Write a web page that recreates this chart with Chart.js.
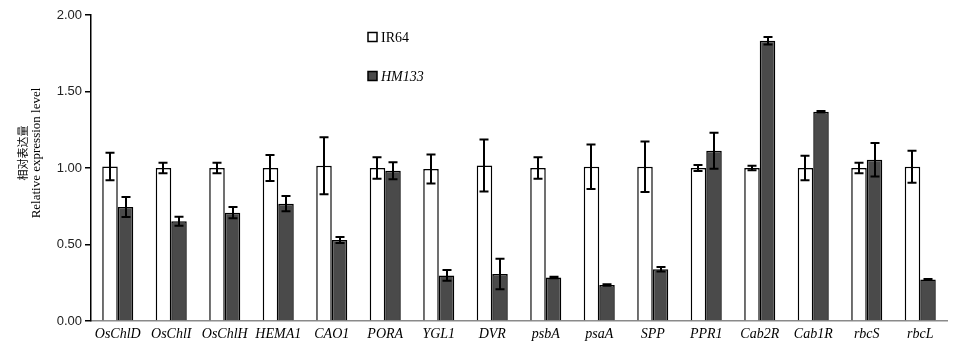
<!DOCTYPE html>
<html><head><meta charset="utf-8">
<script src="https://cdn.jsdelivr.net/npm/chart.js@4.4.1/dist/chart.umd.min.js"></script>
<style>html,body{margin:0;padding:0;background:#fff;}canvas{display:block;}</style>
</head><body>
<canvas id="c" width="955" height="356"></canvas>
<script>
const categories = ['OsChlD','OsChlI','OsChlH','HEMA1','CAO1','PORA','YGL1','DVR','psbA','psaA','SPP','PPR1','Cab2R','Cab1R','rbcS','rbcL'];
const seriesNames = ['IR64','HM133'];
const ir64 = [1.01,1.00,1.00,1.00,1.015,1.00,0.993,1.017,1.00,1.008,1.008,1.00,1.00,1.00,1.00,1.008];
const ir64Err = [0.09,0.035,0.035,0.085,0.186,0.07,0.095,0.17,0.07,0.145,0.165,0.02,0.015,0.08,0.035,0.105];
const hm133 = [0.745,0.652,0.708,0.767,0.529,0.982,0.298,0.307,0.285,0.235,0.338,1.113,1.832,1.368,1.054,0.272];
const hm133Err = [0.065,0.03,0.037,0.05,0.02,0.056,0.035,0.1,0.005,0.005,0.015,0.118,0.025,0.005,0.11,0.003];
const yTicks = [0,0.5,1.0,1.5,2.0];
const yTitle = ['相对表达量','Relative expression level'];

const errs = [ir64Err, hm133Err];

const errorBars = {
  id:'errorBars',
  afterDatasetsDraw(chart){
    const ctx = chart.ctx, ys = chart.scales.y;
    ctx.save();
    ctx.strokeStyle = '#000';
    ctx.lineWidth = 2;
    chart.data.datasets.forEach((ds,di)=>{
      const meta = chart.getDatasetMeta(di);
      meta.data.forEach((el,i)=>{
        const v = ds.data[i], e = errs[di][i];
        const x = Math.round(el.x);
        const t = ys.getPixelForValue(v+e), b = ys.getPixelForValue(v-e);
        ctx.beginPath();
        ctx.moveTo(x, t); ctx.lineTo(x, b);
        ctx.moveTo(x-4.5, t); ctx.lineTo(x+4.5, t);
        ctx.moveTo(x-4.5, b); ctx.lineTo(x+4.5, b);
        ctx.stroke();
      });
    });
    ctx.restore();
  }
};

const extras = {
  id:'extras',
  afterDraw(chart){
    const ctx = chart.ctx;
    ctx.save();
    // y axis title
    ctx.fillStyle = '#000';
    ctx.textAlign = 'center';
    ctx.textBaseline = 'middle';
    ctx.translate(23, 153);
    ctx.rotate(-Math.PI/2);
    ctx.font = '11px "Noto Sans CJK SC"';
    ctx.fillText(yTitle[0], 0, 0);
    ctx.font = '13px "Liberation Serif"';
    ctx.fillText(yTitle[1], 0, 14);
    ctx.restore();
    // legend
    ctx.save();
    const items = [
      {y:37, fill:'#ffffff', font:'14px "Liberation Serif"'},
      {y:76, fill:'#4a4a4a', font:'italic 14px "Liberation Serif"'}
    ];
    items.forEach((it,i)=>{
      ctx.fillStyle = it.fill;
      ctx.fillRect(368, it.y-4.5, 9, 9);
      ctx.strokeStyle = '#000';
      ctx.lineWidth = 1.5;
      ctx.strokeRect(368, it.y-4.5, 9, 9);
      ctx.fillStyle = '#000';
      ctx.font = it.font;
      ctx.textAlign = 'left';
      ctx.textBaseline = 'middle';
      ctx.fillText(chart.data.datasets[i].label, 381, it.y+1);
    });
    ctx.restore();
  }
};

new Chart(document.getElementById('c'), {
  type:'bar',
  data:{
    labels: categories,
    datasets:[
      {label:seriesNames[0], data:ir64, backgroundColor:'#ffffff', borderColor:'#000', borderWidth:1.5, borderSkipped:'bottom'},
      {label:seriesNames[1], data:hm133, backgroundColor:'#4a4a4a', borderColor:'#000', borderWidth:1.5, borderSkipped:'bottom'}
    ]
  },
  options:{
    responsive:false,
    animation:false,
    devicePixelRatio:1,
    layout:{padding:{top:15,right:8,left:0,bottom:0}},
    datasets:{bar:{categoryPercentage:0.58, barPercentage:1.0}},
    plugins:{legend:{display:false}, tooltip:{enabled:false}},
    scales:{
      x:{
        grid:{display:false, drawTicks:false},
        border:{color:'#8a8a8a', width:1.5},
        ticks:{color:'#000', font:{family:'"Liberation Serif"', size:14, style:'italic'}, padding:5, maxRotation:0, autoSkip:false},
        afterFit(s){ s.height = 35; }
      },
      y:{
        min:0, max:2,
        afterBuildTicks(s){ s.ticks = yTicks.map(v=>({value:v})); },
        grid:{drawOnChartArea:false, drawTicks:true, tickLength:6, color:'#000', lineWidth:1.5},
        border:{color:'#000', width:1.5},
        ticks:{color:'#222', font:{family:'"Liberation Sans"', size:13}, padding:3, callback:v=>Number(v).toFixed(2)},
        afterFit(s){ s.width = 91; }
      }
    }
  },
  plugins:[errorBars, extras]
});
</script>
</body></html>
